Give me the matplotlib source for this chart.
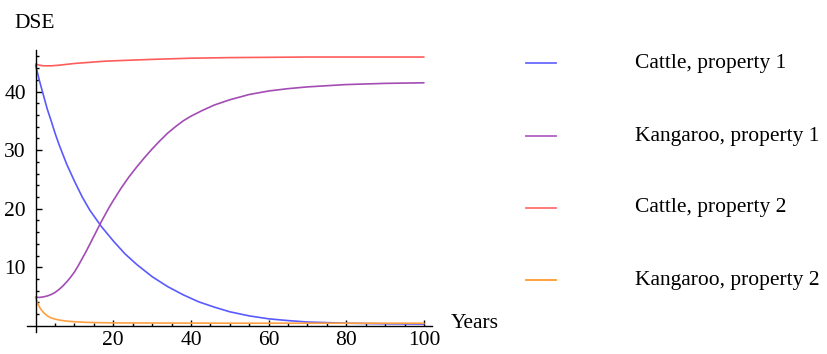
import matplotlib
matplotlib.use("Agg")
import matplotlib.pyplot as plt
from matplotlib.lines import Line2D
from matplotlib.ticker import FixedLocator

plt.rcParams['font.family'] = ['Liberation Serif', 'DejaVu Serif']

# ---- data ----
labels = ["Cattle, property 1", "Kangaroo, property 1", "Cattle, property 2", "Kangaroo, property 2"]
colors = ["#5a5aff", "#a24cb4", "#ff5c5c", "#ffa040"]
legend_colors = ["#6a6aff", "#b060c4", "#ff7070", "#ff9a30"]

cattle1_x = [0, 1, 2, 3, 4, 5, 6, 8, 10, 12, 14, 17, 20, 23, 26, 30, 34, 38, 42, 46, 50, 55, 60, 65, 70, 80, 90, 100]
cattle1_y = [44.5, 41.8, 39.4, 37.0, 35.0, 32.9, 31.0, 27.6, 24.7, 22.0, 19.7, 16.9, 14.5, 12.3, 10.5, 8.4, 6.7, 5.3,
             4.1, 3.2, 2.4, 1.7, 1.2, 0.9, 0.65, 0.45, 0.35, 0.3]

kang1_x = [0, 1, 2, 3, 4, 5, 6, 7, 8, 9, 10, 11, 12, 13, 14, 15, 16, 17, 18, 19, 20, 22, 24, 26, 28, 30, 32, 34, 36,
           38, 40, 43, 46, 50, 55, 60, 65, 70, 80, 90, 100]
kang1_y = [4.9, 4.85, 4.95, 5.1, 5.35, 5.7, 6.2, 6.8, 7.5, 8.3, 9.2, 10.3, 11.5, 12.7, 14.0, 15.3, 16.6, 17.9, 19.1,
           20.3, 21.4, 23.5, 25.4, 27.1, 28.7, 30.2, 31.6, 32.9, 34.0, 35.0, 35.8, 36.8, 37.7, 38.6, 39.5, 40.1,
           40.5, 40.8, 41.2, 41.4, 41.5]

cattle2_x = [0, 1, 2, 4, 6, 8, 10, 14, 18, 22, 26, 30, 35, 40, 50, 60, 70, 100]
cattle2_y = [44.7, 44.5, 44.4, 44.4, 44.5, 44.65, 44.8, 45.0, 45.2, 45.3, 45.4, 45.5, 45.6, 45.7, 45.8, 45.85,
             45.9, 45.9]

kang2_x = [0, 0.5, 1, 1.5, 2, 3, 4, 5, 6, 8, 10, 13, 16, 20, 30, 50, 100]
kang2_y = [4.8, 3.9, 3.2, 2.7, 2.3, 1.7, 1.35, 1.15, 1.0, 0.8, 0.7, 0.6, 0.55, 0.5, 0.48, 0.45, 0.45]

series_x = [cattle1_x, kang1_x, cattle2_x, kang2_x]
series_y = [cattle1_y, kang1_y, cattle2_y, kang2_y]

x_major = [20, 40, 60, 80, 100]
y_major = [10, 20, 30, 40]

# ---- figure ----
W, H = 827, 354
fig = plt.figure(figsize=(W / 100, H / 100), dpi=100)
l, r, b, t = 26.7, 431.7, 331.7, 50.0
ax = fig.add_axes([l / W, 1 - b / H, (r - l) / W, (b - t) / H])
ax.set_xlim(-2.3, 102)
ax.set_ylim(-1.0, 47.1)

for xs, ys, c in zip(series_x, series_y, colors):
    ax.plot(xs, ys, color=c, lw=1.2, solid_capstyle='round', solid_joinstyle='round')

for s in ['top', 'right']:
    ax.spines[s].set_visible(False)
for s in ['left', 'bottom']:
    ax.spines[s].set_position(('data', 0))
    ax.spines[s].set_linewidth(1.0)

ax.xaxis.set_major_locator(FixedLocator(x_major))
ax.xaxis.set_minor_locator(FixedLocator([v for v in range(5, 101, 5) if v not in x_major]))
ax.yaxis.set_major_locator(FixedLocator(y_major))
ax.yaxis.set_minor_locator(FixedLocator([v for v in range(2, 47, 2) if v not in y_major]))
ax.tick_params(which='major', direction='in', length=4.5, width=1.0, labelsize=15.5)
ax.tick_params(which='minor', direction='in', length=2.5, width=1.0)
ax.tick_params(axis='x', which='major', pad=4)
ax.tick_params(axis='y', which='major', pad=7)

fig.text(14 / W, 1 - 23 / H, "DSE", fontsize=15.5, ha='left', va='center')
fig.text(451 / W, 1 - 324 / H, "Years", fontsize=15.5, ha='left', va='center')

# legend
leg_y = [63.3, 136.0, 207.7, 280.0]
for yy, c, lab in zip(leg_y, legend_colors, labels):
    fig.add_artist(Line2D([526 / W, 556 / W], [1 - yy / H, 1 - yy / H], transform=fig.transFigure,
                          color=c, lw=1.3))
    fig.text(635 / W, 1 - yy / H, lab, fontsize=15.5, ha='left', va='center')

fig.savefig("out.png", dpi=100)
